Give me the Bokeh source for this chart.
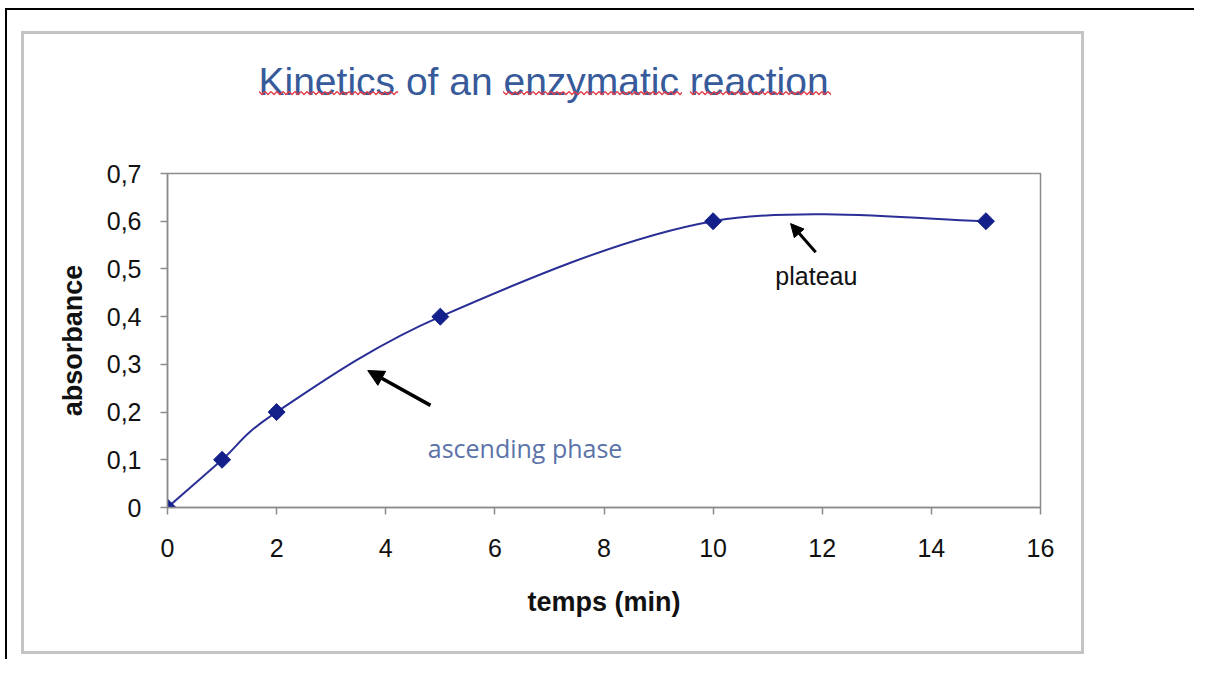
import numpy as np
from bokeh.plotting import figure
from bokeh.models import (Range1d, FixedTicker, Label, Arrow, NormalHead,
                          ColumnDataSource, InlineStyleSheet)
from bokeh.embed import file_html
from bokeh.resources import INLINE

# ---- data ----
time_min = [0, 1, 2, 5, 10, 15]
absorbance = [0.0, 0.1, 0.2, 0.4, 0.6, 0.6]
x_ticks = [0, 2, 4, 6, 8, 10, 12, 14, 16]
y_ticks = [0, 0.1, 0.2, 0.3, 0.4, 0.5, 0.6, 0.7]
y_tick_labels = ["0", "0,1", "0,2", "0,3", "0,4", "0,5", "0,6", "0,7"]
title_text = "Kinetics of an enzymatic reaction"
x_label = "temps (min)"
y_label = "absorbance"

FONT = "Liberation Sans"
GREY = "#8c8c8c"
NAVY = "#14208a"

SHIFT = 16                      # whole canvas is lifted by this many px (CSS)
W, H = 1194, 659
BL, BT, FW, FH = 167, 173 + SHIFT, 873, 334

p = figure(width=W, height=H, output_backend="svg", toolbar_location=None,
           x_range=Range1d(0, 16), y_range=Range1d(0, 0.7),
           min_border_left=BL, min_border_right=W - BL - FW,
           min_border_top=BT, min_border_bottom=H - BT - FH,
           background_fill_color="white", border_fill_color="white")

# title
p.title.text = title_text
p.title.text_font = FONT
p.title.text_font_size = "39px"
p.title.text_font_style = "normal"
p.title.text_color = "#375a9a"
p.title.align = "left"
p.title.offset = 91
p.title.standoff = 141

# frame / axes
p.outline_line_color = GREY
p.outline_line_width = 1.5
p.xgrid.grid_line_color = None
p.ygrid.grid_line_color = None
for ax in (p.xaxis, p.yaxis):
    ax.axis_line_color = GREY
    ax.axis_line_width = 1.5
    ax.major_tick_line_color = GREY
    ax.major_tick_line_width = 1.5
    ax.major_tick_out = 7
    ax.major_tick_in = 0
    ax.minor_tick_line_color = None
    ax.major_label_text_font = FONT
    ax.major_label_text_font_size = "25px"
    ax.major_label_text_color = "#111111"
    ax.axis_label_text_font = FONT
    ax.axis_label_text_font_size = "27px"
    ax.axis_label_text_font_style = "bold"
    ax.axis_label_text_color = "#111111"

p.xaxis.ticker = FixedTicker(ticks=x_ticks)
p.yaxis.ticker = FixedTicker(ticks=y_ticks)
p.yaxis.major_label_overrides = {t: l for t, l in zip(y_ticks, y_tick_labels)}
p.xaxis.axis_label = x_label
p.yaxis.axis_label = y_label
p.xaxis.major_label_standoff = 24
p.yaxis.major_label_standoff = 19
p.xaxis.axis_label_standoff = 27
p.yaxis.axis_label_standoff = 16

# smoothed curve (Catmull-Rom as cubic Bezier segments through the data points)
n = len(time_min)
seg = dict(x0=[], y0=[], x1=[], y1=[], cx0=[], cy0=[], cx1=[], cy1=[])
for i in range(n - 1):
    a, b = max(i - 1, 0), min(i + 2, n - 1)
    seg["x0"].append(time_min[i]); seg["y0"].append(absorbance[i])
    seg["x1"].append(time_min[i + 1]); seg["y1"].append(absorbance[i + 1])
    seg["cx0"].append(time_min[i] + (time_min[i + 1] - time_min[a]) / 6)
    seg["cy0"].append(absorbance[i] + (absorbance[i + 1] - absorbance[a]) / 6)
    seg["cx1"].append(time_min[i + 1] - (time_min[b] - time_min[i]) / 6)
    seg["cy1"].append(absorbance[i + 1] - (absorbance[b] - absorbance[i]) / 6)
p.bezier(x0="x0", y0="y0", x1="x1", y1="y1", cx0="cx0", cy0="cy0",
         cx1="cx1", cy1="cy1", source=ColumnDataSource(seg),
         line_color="#2a2f96", line_width=2)

# markers (diamonds)
p.scatter(time_min, absorbance, marker="square", angle=np.pi / 4, size=12,
          fill_color=NAVY, line_color=NAVY)

# annotations
p.add_layout(Arrow(end=NormalHead(size=16, fill_color="black", line_color="black"),
                   x_start=4.82, y_start=0.214, x_end=3.67, y_end=0.287,
                   line_color="black", line_width=3.5))
p.add_layout(Label(x=4.77, y=0.124, text="ascending phase",
                   text_font="Open Sans", text_font_size="25px",
                   text_color="#5b73a8", text_baseline="middle"))
p.add_layout(Arrow(end=NormalHead(size=13, fill_color="black", line_color="black"),
                   x_start=11.88, y_start=0.535, x_end=11.42, y_end=0.595,
                   line_color="black", line_width=3))
p.add_layout(Label(x=11.14, y=0.486, text="plateau",
                   text_font=FONT, text_font_size="25px",
                   text_color="#111111", text_baseline="middle"))


# page decoration: grey chart-area border, black document border and the
# red spell-check squiggles under three title words
def squiggle(w):
    return (f"url(\"data:image/svg+xml;utf8,<svg xmlns='http://www.w3.org/2000/svg' "
            f"width='{w}' height='6'><defs><pattern id='w' width='6' height='6' "
            f"patternUnits='userSpaceOnUse'><path d='M0 1.5 L3 4.5 L6 1.5' fill='none' "
            f"stroke='%23e03a48' stroke-width='1.3'/></pattern></defs>"
            f"<rect width='{w}' height='6' fill='url(%23w)'/></svg>\")")


css = f"""
:host {{ position: relative; top: -{SHIFT}px; }}
:host::before {{
  content: ""; position: absolute; left: 21px; top: {31 + SHIFT}px;
  width: 1057px; height: 617px; border: 3px solid #c4c4c4;
  z-index: 100; pointer-events: none;
  background-image: {squiggle(139)}, {squiggle(179)}, {squiggle(141)};
  background-position: 235px 56px, 479px 56px, 666px 56px;
  background-size: 139px 6px, 179px 6px, 141px 6px;
  background-repeat: no-repeat;
}}
:host::after {{
  content: ""; position: absolute; left: 5px; top: {8 + SHIFT}px; right: 0;
  bottom: -{SHIFT}px;
  border-left: 2px solid #000; border-top: 2px solid #000;
  z-index: 101; pointer-events: none;
}}
"""
p.stylesheets = [InlineStyleSheet(css=css)]

open("out.html", "w").write(file_html(p, INLINE))
